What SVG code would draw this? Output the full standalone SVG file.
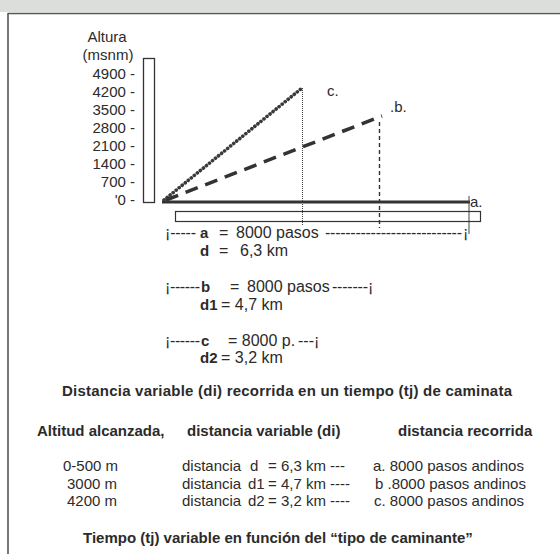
<svg xmlns="http://www.w3.org/2000/svg" width="560" height="554" viewBox="0 0 560 554">
<style>
text{font-family:"Liberation Sans",Arial,sans-serif;font-size:15px;fill:#2b2b2b}
.b{font-weight:bold}
.lg{font-size:16px}
.ln{stroke:#333;fill:none}
</style>
<rect x="0" y="0" width="560" height="554" fill="#ffffff"/>
<rect x="0" y="0" width="560" height="12" fill="#dcdedb"/>
<path d="M8,13.5 H560 M8,13 V554" stroke="#555" stroke-width="1.6" fill="none"/>
<g id="axis">
<text x="107" y="42" text-anchor="middle">Altura</text>
<text x="108" y="60" text-anchor="middle">(msnm)</text>
<rect x="143.5" y="58.5" width="11" height="144" class="ln" stroke-width="1.3"/>
<g text-anchor="end">
<text x="135" y="78.5">4900 -</text>
<text x="135" y="96.5">4200 -</text>
<text x="135" y="114.5">3500 -</text>
<text x="135" y="132.5">2800 -</text>
<text x="135" y="150.5">2100 -</text>
<text x="135" y="168.5">1400 -</text>
<text x="135" y="186.5">700 -</text>
<text x="135" y="204.5">'0 -</text>
</g>
</g>
<g id="connectors">
<line x1="162" y1="202" x2="470" y2="202" class="ln" stroke-width="3"/>
<line x1="164" y1="200" x2="302" y2="88" stroke="#3a3a3a" stroke-width="3.6" stroke-dasharray="0.1 3.8" stroke-linecap="round"/>
<line x1="166" y1="200" x2="382" y2="116" stroke="#333" stroke-width="3.5" stroke-dasharray="13 8"/>
<line x1="302.5" y1="88" x2="302.5" y2="226" stroke="#444" stroke-width="1" stroke-dasharray="1 1"/>
<line x1="379.5" y1="122" x2="379.5" y2="228" stroke="#333" stroke-width="1.4" stroke-dasharray="4 3"/>
<line x1="469" y1="196" x2="469" y2="234" stroke="#444" stroke-width="1"/>
<rect x="175.5" y="211.5" width="305" height="10" class="ln" stroke-width="1.2"/>
</g>
<g id="labels">
<text x="327" y="96">c.</text>
<text x="390" y="112">.b.</text>
<text x="470" y="207">a.</text>
</g>
<g id="legend" class="lg">
<text x="165" y="238" class="lg" textLength="31" lengthAdjust="spacing">¡-----</text>
<text x="200" y="238" class="b">a</text>
<text x="219" y="238" class="lg">=</text>
<text x="236" y="238" class="lg">8000 pasos</text>
<text x="325" y="238" class="lg" textLength="137" lengthAdjust="spacing">---------------------------</text>
<text x="463" y="238" class="lg">¡</text>
<text x="200" y="256" class="b">d</text>
<text x="219" y="256" class="lg">=</text>
<text x="240" y="256" class="lg">6,3 km</text>
<text x="165" y="292" class="lg" textLength="35" lengthAdjust="spacing">¡------</text>
<text x="201" y="292" class="b">b</text>
<text x="230" y="292" class="lg">=</text>
<text x="247" y="292" class="lg">8000 pasos</text>
<text x="332" y="292" class="lg" textLength="36" lengthAdjust="spacing">-------</text>
<text x="368" y="292" class="lg">¡</text>
<text x="200" y="310" class="b">d1</text>
<text x="221" y="310" class="lg">= 4,7 km</text>
<text x="165" y="346" class="lg" textLength="35" lengthAdjust="spacing">¡------</text>
<text x="201" y="346" class="b">c</text>
<text x="228" y="346" class="lg">= 8000 p.</text>
<text x="298" y="346" class="lg" textLength="16" lengthAdjust="spacing">---</text>
<text x="314" y="346" class="lg">¡</text>
<text x="200" y="363" class="b">d2</text>
<text x="221" y="363" class="lg">= 3,2 km</text>
</g>
<g id="table">
<text x="62" y="396" class="b" textLength="450" lengthAdjust="spacing">Distancia variable (di) recorrida en un tiempo (tj) de caminata</text>
<text x="37" y="436" class="b">Altitud alcanzada,</text>
<text x="187" y="436" class="b">distancia variable (di)</text>
<text x="398" y="436" class="b">distancia recorrida</text>
<text x="63" y="471">0-500 m</text>
<text x="67" y="489">3000 m</text>
<text x="67" y="506">4200 m</text>
<text x="182" y="471">distancia</text>
<text x="182" y="489">distancia</text>
<text x="182" y="506">distancia</text>
<text x="250" y="471">d</text>
<text x="248" y="489">d1</text>
<text x="248" y="506">d2</text>
<text x="268" y="471">= 6,3 km ---</text>
<text x="268" y="489">= 4,7 km ----</text>
<text x="268" y="506">= 3,2 km ----</text>
<text x="373" y="471">a. 8000 pasos andinos</text>
<text x="375" y="489">b .8000 pasos andinos</text>
<text x="374" y="506">c. 8000 pasos andinos</text>
<text x="83" y="543" class="b">Tiempo (tj) variable en función del “tipo de caminante”</text>
</g>
</svg>
